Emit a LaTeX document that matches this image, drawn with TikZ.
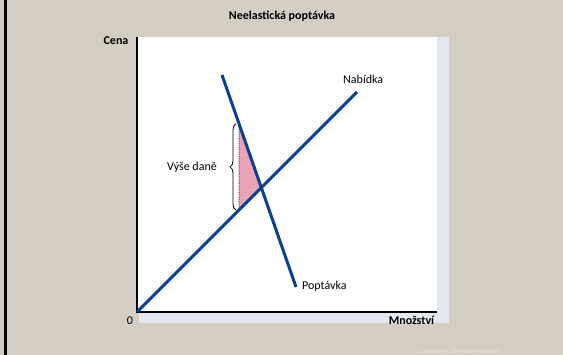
\documentclass[tikz,border=0pt]{standalone}
\usepackage{fontspec}
\setmainfont{Carlito}
\usepackage{xcolor}
\usetikzlibrary{positioning,calc,intersections,decorations.pathreplacing}
\definecolor{SlideBg}{HTML}{D4CDC2}
\definecolor{PanelShade}{HTML}{E4E7EF}
\definecolor{CurveBlue}{HTML}{0B3F94}
\definecolor{TaxPink}{HTML}{E8A3B6}
\definecolor{CopyGrey}{HTML}{ECE8E1}

\begin{document}
\begin{tikzpicture}[
  x=1pt,y=-1pt,
  curve/.style={draw=CurveBlue,line width=3pt},
  axis/.style={draw=black,line width=1.3pt},
  lbl/.style={font=\fontsize{12}{14}\selectfont,inner sep=0pt,anchor=base west},
  bold/.style={font=\fontsize{12}{14}\selectfont\bfseries,inner sep=0pt,anchor=base}
]
  % slide background
  \fill[SlideBg] (0,0) rectangle (563,355);
  \useasboundingbox (0,0) rectangle (563,355);
  \fill[black] (4,0) rectangle (7,355);

  % plot panel
  \fill[PanelShade] (139,37) rectangle (449,323);
  \fill[white] (137,37) rectangle (437,312);

  \node[bold] (title) at (282,20) {Neelastická poptávka};

  % axes
  \coordinate (origin) at (137,312);
  \coordinate (ytop) at (137,37);
  \coordinate (xend) at (437,312);
  \draw[axis] (ytop) -- (origin) -- (xend);
  \node[bold] (cena) at (116,45) {Cena};
  \node[bold] (mnozstvi) at (411.5,325) {Množství};
  \node[lbl,anchor=base] (zero) at (130,325) {0};

  % curves
  \coordinate (supTop) at (357,92);
  \coordinate (demTop) at (222,75);
  \coordinate (demBot) at (296,287);
  \path[name path=sup] (origin) -- (supTop);
  \path[name path=dem] (demTop) -- (demBot);
  \path[name path=tax] (239,37) -- (239,312);
  \path[name intersections={of=sup and dem,by=eq}];
  \path[name intersections={of=dem and tax,by=taxTop}];
  \path[name intersections={of=sup and tax,by=taxBot}];

  \fill[TaxPink] (taxTop) -- (eq) -- (taxBot) -- cycle;
  \draw[densely dotted,line width=0.8pt] (taxTop) -- (taxBot);

  \draw[curve] (origin) -- (supTop);
  \draw[curve] (demTop) -- (demBot);

  \node[lbl] (nabidka) at (343,84) {Nabídka};
  \node[lbl] (poptavka) at (302,290) {Poptávka};

  % tax wedge
  \draw[decorate,decoration={brace,amplitude=6pt},line width=0.8pt]
    ($(taxBot)+(-3,0)$) -- ($(taxTop)+(-3,0)$);
  \node[lbl] (vyse) at (167,171) {Výše daně};

  \node[font=\fontsize{6}{7}\selectfont,text=CopyGrey,inner sep=0pt] (copy) at (459,352) {Copyright © 2004 South-Western};
\end{tikzpicture}
\end{document}
